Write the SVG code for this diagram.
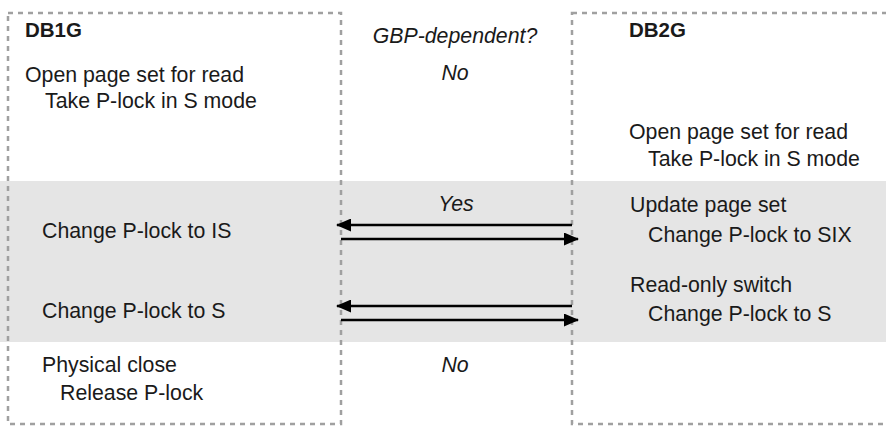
<svg xmlns="http://www.w3.org/2000/svg" width="886" height="426" viewBox="0 0 886 426">
<defs>
<style>
text{font-family:"Liberation Sans",Arial,Helvetica,sans-serif;font-size:21.3px;fill:#1a1a1a}
.b{font-weight:bold;font-size:20.5px}
.i{font-style:italic;text-anchor:middle}
.box{fill:none;stroke:#a0a0a0;stroke-width:2.5;stroke-dasharray:5 5}
.arr{stroke:#000;stroke-width:2.4;fill:none}
</style>
<marker id="ah" markerWidth="15" markerHeight="13" refX="14" refY="6.5" orient="auto" markerUnits="userSpaceOnUse">
<path d="M0,0 L15,6.5 L0,13 Z" fill="#000"/>
</marker>
</defs>
<rect x="0" y="181" width="886" height="161" fill="#e5e5e5"/>
<g id="db1g">
<rect class="box" x="8" y="13" width="333" height="411"/>
<text class="b" x="25" y="37">DB1G</text>
<text x="25" y="82">Open page set for read</text>
<text x="45" y="108">Take P-lock in S mode</text>
<text x="42" y="238">Change P-lock to IS</text>
<text x="42" y="318">Change P-lock to S</text>
<text x="42" y="372">Physical close</text>
<text x="60" y="400">Release P-lock</text>
</g>
<g id="gbp">
<text class="i" x="455" y="43">GBP-dependent?</text>
<text class="i" x="455" y="80">No</text>
<text class="i" x="456" y="211">Yes</text>
<text class="i" x="455" y="372">No</text>
</g>
<g id="db2g">
<rect class="box" x="572" y="13" width="330" height="411"/>
<text class="b" x="629" y="37">DB2G</text>
<text x="629" y="139">Open page set for read</text>
<text x="648" y="166">Take P-lock in S mode</text>
<text x="630" y="212">Update page set</text>
<text x="648" y="242">Change P-lock to SIX</text>
<text x="630" y="292">Read-only switch</text>
<text x="648" y="321">Change P-lock to S</text>
</g>
<g id="connectors">
<line class="arr" x1="572" y1="225" x2="337" y2="225" marker-end="url(#ah)"/>
<line class="arr" x1="341" y1="239" x2="578" y2="239" marker-end="url(#ah)"/>
<line class="arr" x1="572" y1="306" x2="337" y2="306" marker-end="url(#ah)"/>
<line class="arr" x1="341" y1="320" x2="578" y2="320" marker-end="url(#ah)"/>
</g>
</svg>
